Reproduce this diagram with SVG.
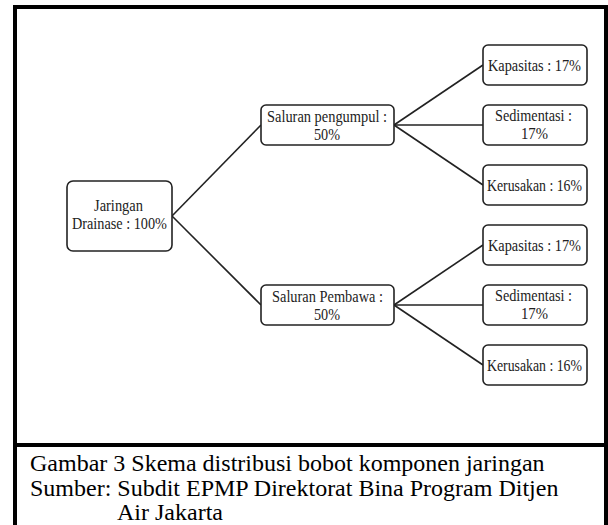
<svg xmlns="http://www.w3.org/2000/svg" width="608" height="525" viewBox="0 0 608 525">
<style>
.frame{stroke:#000;stroke-width:4;fill:none}
.box{fill:#fff;stroke:#222;stroke-width:1.6}
.lbl{font-family:"Liberation Serif","Times New Roman",serif;font-size:16px;fill:#222}
.cap{font-family:"Liberation Serif","Times New Roman",serif;font-size:24px;fill:#000}
.conn line{stroke:#222;stroke-width:1.6}
</style>
<rect x="0" y="0" width="608" height="525" fill="#fff"/>
<g id="frame">
<line class="frame" x1="15" y1="5" x2="15" y2="525"/>
<line class="frame" x1="13" y1="7" x2="608" y2="7"/>
<line class="frame" x1="606" y1="5" x2="606" y2="525"/>
<line class="frame" x1="13" y1="445" x2="608" y2="445"/>
</g>
<g id="connectors" class="conn">
<line x1="172" y1="216" x2="261" y2="125"/>
<line x1="172" y1="216" x2="261" y2="305"/>
<line x1="394" y1="125" x2="483" y2="65"/>
<line x1="394" y1="125" x2="483" y2="125"/>
<line x1="394" y1="125" x2="483" y2="185"/>
<line x1="394" y1="305" x2="483" y2="245"/>
<line x1="394" y1="305" x2="483" y2="305"/>
<line x1="394" y1="305" x2="483" y2="365"/>
</g>
<g id="root">
<rect class="box" x="67" y="181" width="105" height="70" rx="6"/>
<text class="lbl" x="94" y="211" textLength="49" lengthAdjust="spacingAndGlyphs">Jaringan</text>
<text class="lbl" x="72" y="229" textLength="95" lengthAdjust="spacingAndGlyphs">Drainase : 100%</text>
</g>
<g id="pengumpul">
<rect class="box" x="261" y="105" width="133" height="40" rx="5"/>
<text class="lbl" x="267" y="122" textLength="120" lengthAdjust="spacingAndGlyphs">Saluran pengumpul :</text>
<text class="lbl" x="314" y="140" textLength="26" lengthAdjust="spacingAndGlyphs">50%</text>
</g>
<g id="pembawa">
<rect class="box" x="261" y="285" width="133" height="40" rx="5"/>
<text class="lbl" x="272" y="302" textLength="111" lengthAdjust="spacingAndGlyphs">Saluran Pembawa :</text>
<text class="lbl" x="314" y="320" textLength="26" lengthAdjust="spacingAndGlyphs">50%</text>
</g>
<g id="kapasitas1">
<rect class="box" x="483" y="45" width="104" height="40" rx="5"/>
<text class="lbl" x="488" y="71" textLength="93" lengthAdjust="spacingAndGlyphs">Kapasitas : 17%</text>
</g>
<g id="sedimentasi1">
<rect class="box" x="483" y="105" width="104" height="40" rx="5"/>
<text class="lbl" x="495" y="121" textLength="77" lengthAdjust="spacingAndGlyphs">Sedimentasi :</text>
<text class="lbl" x="521" y="139" textLength="27" lengthAdjust="spacingAndGlyphs">17%</text>
</g>
<g id="kerusakan1">
<rect class="box" x="483" y="165" width="104" height="40" rx="5"/>
<text class="lbl" x="487" y="191" textLength="95" lengthAdjust="spacingAndGlyphs">Kerusakan : 16%</text>
</g>
<g id="kapasitas2">
<rect class="box" x="483" y="225" width="104" height="40" rx="5"/>
<text class="lbl" x="488" y="251" textLength="93" lengthAdjust="spacingAndGlyphs">Kapasitas : 17%</text>
</g>
<g id="sedimentasi2">
<rect class="box" x="483" y="285" width="104" height="40" rx="5"/>
<text class="lbl" x="495" y="301" textLength="77" lengthAdjust="spacingAndGlyphs">Sedimentasi :</text>
<text class="lbl" x="521" y="319" textLength="27" lengthAdjust="spacingAndGlyphs">17%</text>
</g>
<g id="kerusakan2">
<rect class="box" x="483" y="345" width="104" height="40" rx="5"/>
<text class="lbl" x="487" y="371" textLength="95" lengthAdjust="spacingAndGlyphs">Kerusakan : 16%</text>
</g>
<g id="caption">
<text class="cap" x="30" y="471">Gambar 3 Skema distribusi bobot komponen jaringan</text>
<text class="cap" x="30" y="496">Sumber: Subdit EPMP Direktorat Bina Program Ditjen</text>
<text class="cap" x="117" y="520">Air Jakarta</text>
</g>
</svg>
